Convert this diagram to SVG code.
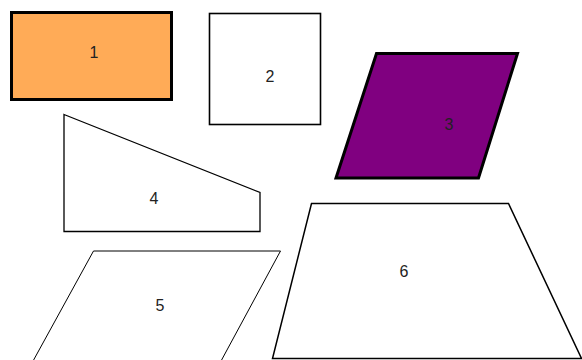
<svg xmlns="http://www.w3.org/2000/svg" width="582" height="360" viewBox="0 0 582 360">
<style>
.s{stroke:#000;stroke-linejoin:miter}
.t{font-family:"Liberation Sans",Arial,sans-serif;font-size:16px;fill:#222;text-anchor:middle;dominant-baseline:central}
</style>
<rect width="582" height="360" fill="#fff"/>
<g id="n1"><rect class="s" x="11.5" y="12.5" width="160" height="87" fill="#ffab57" stroke-width="3"/><text class="t" x="94" y="52">1</text></g>
<g id="n2"><rect class="s" x="209.5" y="13.5" width="111" height="111" fill="#fff" stroke-width="1.6"/><text class="t" x="270" y="76">2</text></g>
<g id="n3"><polygon class="s" points="376.5,53.5 517.5,53.5 478.5,178 336,178" fill="#800080" stroke-width="3"/><text class="t" x="449" y="124">3</text></g>
<g id="n4"><polygon class="s" points="64,114.5 260,192.5 260,231.5 64,231.5" fill="#fff" stroke-width="1.3"/><text class="t" x="154" y="198">4</text></g>
<g id="n5"><polygon class="s" points="93.5,251 280.5,251 220.5,362 32.5,362" fill="#fff" stroke-width="1"/><text class="t" x="160" y="305">5</text></g>
<g id="n6"><polygon class="s" points="311.5,203.5 508.5,203.5 581.5,358.5 272.5,358.5" fill="#fff" stroke-width="1.5"/><text class="t" x="404" y="271">6</text></g>
<g id="connectors"/>
</svg>
